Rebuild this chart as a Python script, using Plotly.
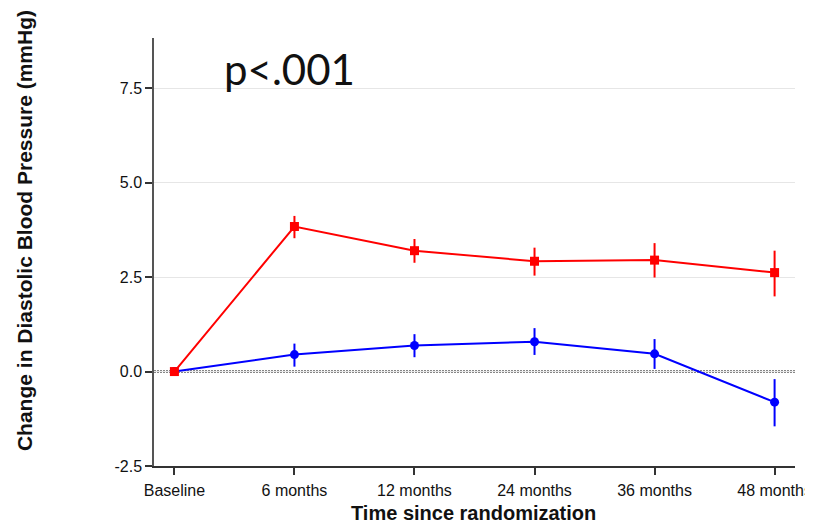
import plotly.graph_objects as go

categories = ["Baseline", "6 months", "12 months", "24 months", "36 months", "48 months"]

red_mean = [0.0, 3.84, 3.20, 2.92, 2.95, 2.62]
red_upper = [0.0, 4.12, 3.51, 3.28, 3.40, 3.20]
red_lower = [0.0, 3.53, 2.88, 2.54, 2.49, 1.99]

blue_mean = [0.0, 0.45, 0.69, 0.79, 0.47, -0.81]
blue_upper = [0.0, 0.74, 0.99, 1.15, 0.86, -0.20]
blue_lower = [0.0, 0.13, 0.38, 0.44, 0.07, -1.45]

y_ticks = [-2.5, 0.0, 2.5, 5.0, 7.5]
y_tick_labels = ["-2.5", "0.0", "2.5", "5.0", "7.5"]

xi = list(range(len(categories)))

FONT = "Liberation Sans, Arial, sans-serif"

fig = go.Figure()

fig.add_shape(type="line", xref="paper", yref="y", x0=0, x1=1, y0=0, y1=0,
              line=dict(color="#111111", width=2, dash="2px,1px"), layer="below")

def add_series(mean, upper, lower, color, symbol):
    fig.add_trace(go.Scatter(
        x=xi, y=mean, mode="lines+markers",
        line=dict(color=color, width=2),
        marker=dict(color=color, symbol=symbol, size=9),
        error_y=dict(type="data", symmetric=False,
                     array=[u - m for u, m in zip(upper, mean)],
                     arrayminus=[m - l for m, l in zip(mean, lower)],
                     color=color, thickness=2, width=0),
        showlegend=False, cliponaxis=False,
    ))

add_series(blue_mean, blue_upper, blue_lower, "#0000ff", "circle")
add_series(red_mean, red_upper, red_lower, "#ff0000", "square")

fig.add_annotation(xref="x", yref="y", x=0.40, y=8.0, xanchor="left", yanchor="middle",
                   text="p<.001", showarrow=False,
                   font=dict(family="Lato, Open Sans, sans-serif", size=42, color="#111111"))

fig.add_annotation(xref="paper", yref="paper", x=-0.203, y=0.551, xanchor="center", yanchor="middle",
                   textangle=-90, showarrow=False,
                   text="<b>Change in Diastolic Blood Pressure (mmHg)</b>",
                   font=dict(family=FONT, size=21, color="#111111"))

fig.add_annotation(xref="paper", yref="paper", x=0.499, y=-0.110, xanchor="center", yanchor="middle",
                   showarrow=False, text="<b>Time since randomization</b>",
                   font=dict(family=FONT, size=20, color="#111111"))

fig.update_layout(
    width=805, height=515,
    margin=dict(l=146, r=18, t=30, b=57, autoexpand=False),
    paper_bgcolor="white", plot_bgcolor="white",
    font=dict(family=FONT, size=16, color="#111111"),
    xaxis=dict(
        tickmode="array", tickvals=xi, ticktext=categories,
        range=[-0.17, 5.17], showgrid=False, zeroline=False, automargin=False,
        showline=True, linecolor="#333333", linewidth=1.5,
        ticks="outside", ticklen=7, tickcolor="#333333", tickwidth=1.5,
        tickfont=dict(size=16), ticklabelstandoff=2,
    ),
    yaxis=dict(
        tickmode="array", tickvals=y_ticks, ticktext=y_tick_labels,
        range=[-2.5, 8.83], showgrid=True, gridcolor="#e6e6e6", gridwidth=1,
        zeroline=False, showline=True, linecolor="#555555", linewidth=1.5, automargin=False,
        ticks="outside", ticklen=7, tickcolor="#333333", tickwidth=1.5,
        tickfont=dict(size=16),
    ),
)

fig.write_html("out.html")
